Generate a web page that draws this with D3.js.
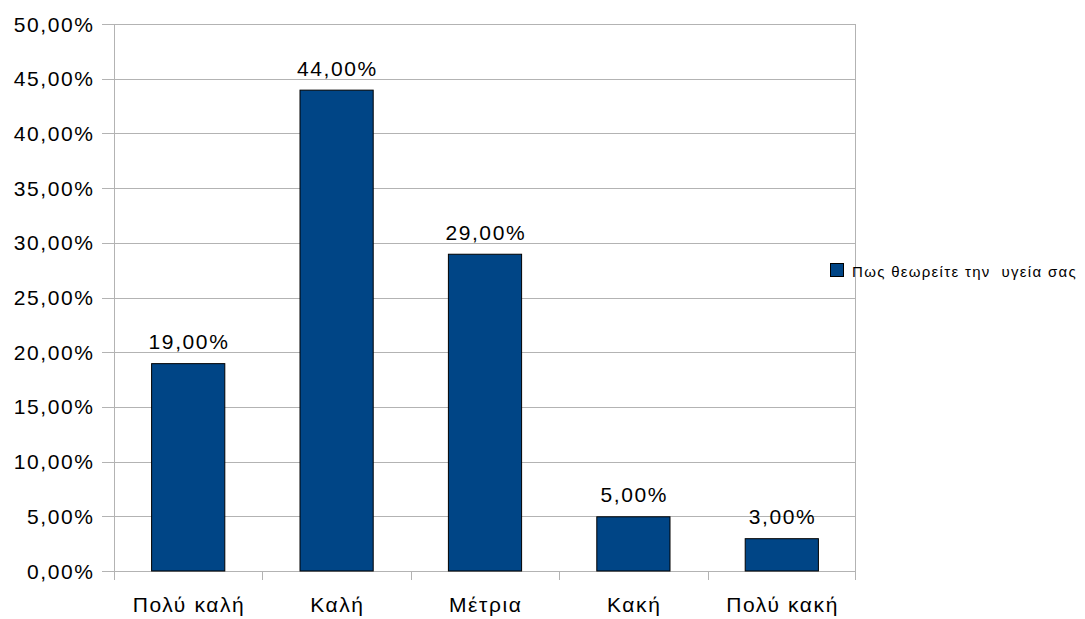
<!DOCTYPE html>
<html>
<head>
<meta charset="utf-8">
<script src="https://cdn.jsdelivr.net/npm/d3@7"></script>
<style>
  html, body { margin: 0; padding: 0; background: #fff; }
  svg { display: block; font-family: "Liberation Sans", Arial, sans-serif; }
</style>
</head>
<body>
<svg id="chart" width="1085" height="619"></svg>
<script>
// Survey: self-rated health
const categories = ["Πολύ καλή", "Καλή", "Μέτρια", "Κακή", "Πολύ κακή"];
const values = [0.19, 0.44, 0.29, 0.05, 0.03];
const yTicks = [0, 0.05, 0.10, 0.15, 0.20, 0.25, 0.30, 0.35, 0.40, 0.45, 0.50];
const seriesName = "Πως θεωρείτε την  υγεία σας";

const svg = d3.select("#chart");
const plot = { left: 114, right: 856, top: 24, bottom: 571 };
const fontSize = 21;
const spacing = 1.6;   // slightly wide tracking of the labels

const fmt = v => d3.format(".2f")(v * 100).replace(".", ",") + "%";

const x = d3.scaleBand()
  .domain(categories)
  .range([plot.left, plot.right])
  .paddingInner(0.5)
  .paddingOuter(0.25);

const y = d3.scaleLinear()
  .domain([0, 0.5])
  .range([plot.bottom, plot.top]);

// horizontal grid with short ticks left of the axis
svg.append("g")
  .selectAll("line")
  .data(yTicks)
  .join("line")
  .attr("x1", plot.left - 12)
  .attr("x2", plot.right)
  .attr("y1", d => Math.round(y(d)) + 0.5)
  .attr("y2", d => Math.round(y(d)) + 0.5)
  .attr("stroke", "#b3b3b3")
  .attr("stroke-width", 1);

// plot frame sides
[plot.left + 0.5, plot.right - 0.5].forEach(px => {
  svg.append("line")
    .attr("x1", px).attr("x2", px)
    .attr("y1", plot.top).attr("y2", plot.bottom + 9)
    .attr("stroke", "#b3b3b3");
});

// category tick marks between groups
const boundaries = d3.range(1, categories.length)
  .map(i => plot.left + i * (plot.right - plot.left) / categories.length);
svg.append("g")
  .selectAll("line")
  .data(boundaries)
  .join("line")
  .attr("x1", d => Math.round(d) + 0.5)
  .attr("x2", d => Math.round(d) + 0.5)
  .attr("y1", plot.bottom)
  .attr("y2", plot.bottom + 9)
  .attr("stroke", "#b3b3b3");

// y tick labels
svg.append("g")
  .selectAll("text")
  .data(yTicks)
  .join("text")
  .attr("x", 93 + spacing)
  .attr("y", d => y(d) + 7.5)
  .attr("text-anchor", "end")
  .attr("font-size", fontSize)
  .attr("letter-spacing", spacing)
  .attr("fill", "#000")
  .text(fmt);

// bars
svg.append("g")
  .selectAll("rect")
  .data(values)
  .join("rect")
  .attr("x", (d, i) => x(categories[i]) + 0.5)
  .attr("y", d => y(d) + 0.5)
  .attr("width", x.bandwidth() - 1)
  .attr("height", d => y(0) - y(d) - 0.5)
  .attr("fill", "#004586")
  .attr("stroke", "#000")
  .attr("stroke-width", 1);

// value labels
svg.append("g")
  .selectAll("text")
  .data(values)
  .join("text")
  .attr("x", (d, i) => x(categories[i]) + x.bandwidth() / 2 + spacing / 2)
  .attr("y", d => y(d) - 14)
  .attr("text-anchor", "middle")
  .attr("font-size", fontSize)
  .attr("letter-spacing", spacing)
  .attr("fill", "#000")
  .text(fmt);

// category labels
svg.append("g")
  .selectAll("text")
  .data(categories)
  .join("text")
  .attr("x", d => x(d) + x.bandwidth() / 2 + spacing / 2)
  .attr("y", 612)
  .attr("text-anchor", "middle")
  .attr("font-size", fontSize)
  .attr("letter-spacing", spacing)
  .attr("fill", "#000")
  .text(d => d);

// legend
const legend = svg.append("g").attr("transform", "translate(830,263)");
legend.append("rect")
  .attr("x", 0.5).attr("y", 0.5)
  .attr("width", 13).attr("height", 13)
  .attr("fill", "#004586")
  .attr("stroke", "#000");
legend.append("text")
  .attr("x", 22)
  .attr("y", 14)
  .attr("font-size", 15)
  .attr("letter-spacing", 1.3)
  .attr("xml:space", "preserve")
  .style("white-space", "pre")
  .attr("fill", "#000")
  .text(seriesName);
</script>
</body>
</html>
